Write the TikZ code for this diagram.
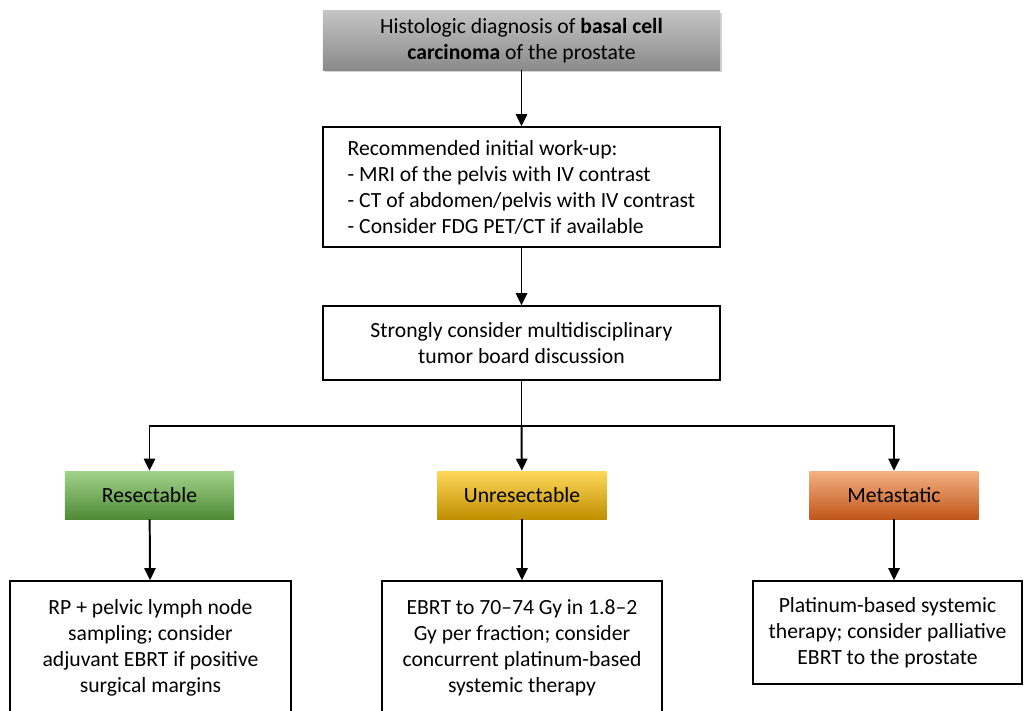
\documentclass[tikz,border=0pt]{standalone}
\usepackage{fontspec}
\setmainfont{Carlito}
\usetikzlibrary{arrows.meta, positioning, shadows}

\definecolor{greytop}{HTML}{C4C4C4}
\definecolor{greybot}{HTML}{8A8A8A}
\definecolor{greentop}{HTML}{A2D38A}
\definecolor{greenbot}{HTML}{4F8A36}
\definecolor{yellowtop}{HTML}{FFD75A}
\definecolor{yellowbot}{HTML}{BF8F00}
\definecolor{orangetop}{HTML}{F4B183}
\definecolor{orangebot}{HTML}{C0561A}

\begin{document}
\begin{tikzpicture}[
  x=0.025cm, y=-0.025cm,
  every node/.style={font=\fontsize{15.4}{18.5}\selectfont},
  box/.style={rectangle, draw, line width=1.1pt, fill=white, align=center, inner sep=2pt},
  stage/.style={rectangle, minimum width=4.225cm, minimum height=1.2cm, inner sep=2pt},
  line/.style={-{Triangle[length=3mm, width=2.8mm]}, line width=1.4pt}
]
\useasboundingbox (0,0) rectangle (1025,710);

\node[rectangle, minimum width=9.925cm, minimum height=1.475cm, align=center,
      top color=greytop, bottom color=greybot,
      drop shadow={shadow xshift=0.5mm, shadow yshift=-0.6mm, opacity=0.35}]
  (diag) at (521.5,40.5)
  {Histologic diagnosis of \textbf{basal cell}\\ \textbf{carcinoma} of the prostate};

\node[box, minimum width=9.925cm, minimum height=3cm, align=left] (workup) at (521.5,187)
  {Recommended initial work-up:\\
   - MRI of the pelvis with IV contrast\\
   - CT of abdomen/pelvis with IV contrast\\
   - Consider FDG PET/CT if available};

\node[box, minimum width=9.925cm, minimum height=1.85cm] (board) at (521.5,343)
  {Strongly consider multidisciplinary\\ tumor board discussion};

\coordinate (split) at (521.5,426);

\node[stage, top color=greentop, bottom color=greenbot] (resect) at (149.5,495) {Resectable};
\node[stage, top color=yellowtop, bottom color=yellowbot] (unres) at (522,495) {Unresectable};
\node[stage, top color=orangetop, bottom color=orangebot] (meta) at (894,495) {Metastatic};

\node[box, minimum width=7.025cm, minimum height=3.35cm] (surg) at (150.5,648)
  {RP + pelvic lymph node\\ sampling; consider\\ adjuvant EBRT if positive\\ surgical margins};
\node[box, minimum width=7cm, minimum height=3.35cm] (ebrt) at (522,648)
  {EBRT to 70--74 Gy in 1.8--2\\ Gy per fraction; consider\\ concurrent platinum-based\\ systemic therapy};
\node[box, minimum width=6.725cm, minimum height=2.575cm] (chemo) at (887.5,632.5)
  {Platinum-based systemic\\ therapy; consider palliative\\ EBRT to the prostate};

\draw[line] (diag) -- (workup);
\draw[line] (workup) -- (board);
\draw[line width=1.4pt] (board) -- (split);
\draw[line] (split) -| (resect.north);
\draw[line] (split) -- (unres);
\draw[line] (split) -| (meta.north);

\draw[line] (resect) -- (surg);
\draw[line] (unres) -- (ebrt);
\draw[line] (meta.south) -- (meta.south |- chemo.north);

\end{tikzpicture}
\end{document}
